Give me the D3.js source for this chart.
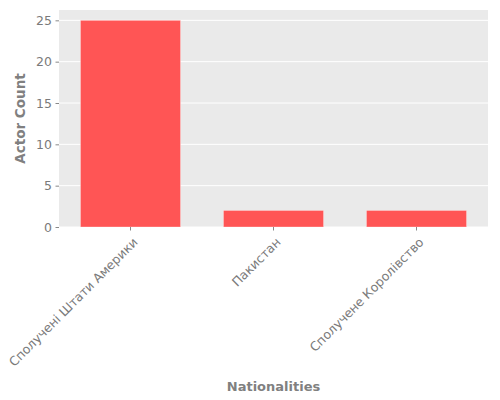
<!DOCTYPE html>
<html>
<head>
<meta charset="utf-8">
<script src="https://cdn.jsdelivr.net/npm/d3@7"></script>
<style>
    body { margin: 0; background: #ffffff; }
    text { font-family: 'DejaVu Sans', sans-serif; }
</style>
</head>
<body>
<svg></svg>
<script>
let nationalities = ['Сполучені Штати Америки', 'Пакистан', 'Сполучене Королівство']
let actorCounts = [25, 2, 2]
let yTicks = [0, 5, 10, 15, 20, 25]

let width = 500
let height = 400
let plotLeft = 59
let plotRight = 488
let plotTop = 10
let plotBottom = 227

let svg = d3.select('svg')
let xScale
let yScale

let drawCanvas = () => {
    svg.attr('width', width)
    svg.attr('height', height)

    // grey panel behind the bars
    svg.append('rect')
        .attr('x', plotLeft)
        .attr('y', plotTop)
        .attr('width', plotRight - plotLeft)
        .attr('height', plotBottom - plotTop)
        .attr('fill', '#eaeaea')
}

let generateScales = () => {
    xScale = d3.scaleBand()
                .domain(nationalities)
                .range([plotLeft, plotRight])
                .paddingInner(0.3)
                .paddingOuter(0.15)

    yScale = d3.scaleLinear()
                .domain([0, d3.max(actorCounts) * 1.05])
                .range([plotBottom, plotTop])
}

let drawGrid = () => {
    svg.append('g')
        .selectAll('line')
        .data(yTicks)
        .enter()
        .append('line')
        .attr('x1', plotLeft)
        .attr('x2', plotRight)
        .attr('y1', (d) => yScale(d))
        .attr('y2', (d) => yScale(d))
        .attr('stroke', '#ffffff')
        .attr('stroke-width', 1)
}

let drawBars = () => {
    svg.selectAll('.bar')
        .data(actorCounts)
        .enter()
        .append('rect')
        .attr('class', 'bar')
        .attr('x', (d, i) => xScale(nationalities[i]))
        .attr('y', (d) => yScale(d))
        .attr('width', xScale.bandwidth())
        .attr('height', (d) => plotBottom - yScale(d))
        .attr('fill', '#ff5555')
        .attr('stroke', '#ffffff')
        .attr('stroke-opacity', 0.4)
        .attr('stroke-width', 0.8)
}

let generateAxes = () => {
    let yAxis = d3.axisLeft(yScale)
                    .tickValues(yTicks)
                    .tickSize(3.5)
                    .tickPadding(3.5)

    let yG = svg.append('g')
        .call(yAxis)
        .attr('transform', `translate(${plotLeft}, 0)`)
    yG.select('.domain').remove()
    yG.selectAll('line').attr('stroke', '#888888')
    yG.selectAll('text')
        .attr('fill', '#7a7a7a')
        .style('font-size', '12.5px')
        .style('font-family', 'DejaVu Sans')

    let xAxis = d3.axisBottom(xScale)
                    .tickSize(3.5)

    let xG = svg.append('g')
        .call(xAxis)
        .attr('transform', `translate(0, ${plotBottom})`)
    xG.select('.domain').remove()
    xG.selectAll('line').attr('stroke', '#888888')
    // labels slanted at 45 degrees, ending just right of the tick
    xG.selectAll('text')
        .attr('fill', '#7a7a7a')
        .attr('text-anchor', 'end')
        .attr('y', 0)
        .attr('dy', 0)
        .attr('transform', 'translate(8, 16) rotate(-45)')
        .style('font-size', '12.5px')
        .style('font-family', 'DejaVu Sans')

    svg.append('text')
        .attr('transform', `translate(25, ${(plotTop + plotBottom) / 2}) rotate(-90)`)
        .attr('text-anchor', 'middle')
        .attr('fill', '#808080')
        .style('font-size', '13.5px')
        .style('font-weight', 'bold')
        .text('Actor Count')

    svg.append('text')
        .attr('x', (plotLeft + plotRight) / 2)
        .attr('y', 391)
        .attr('text-anchor', 'middle')
        .attr('fill', '#808080')
        .style('font-size', '13px')
        .style('font-weight', 'bold')
        .text('Nationalities')
}

drawCanvas()
generateScales()
drawGrid()
drawBars()
generateAxes()
</script>
</body>
</html>
